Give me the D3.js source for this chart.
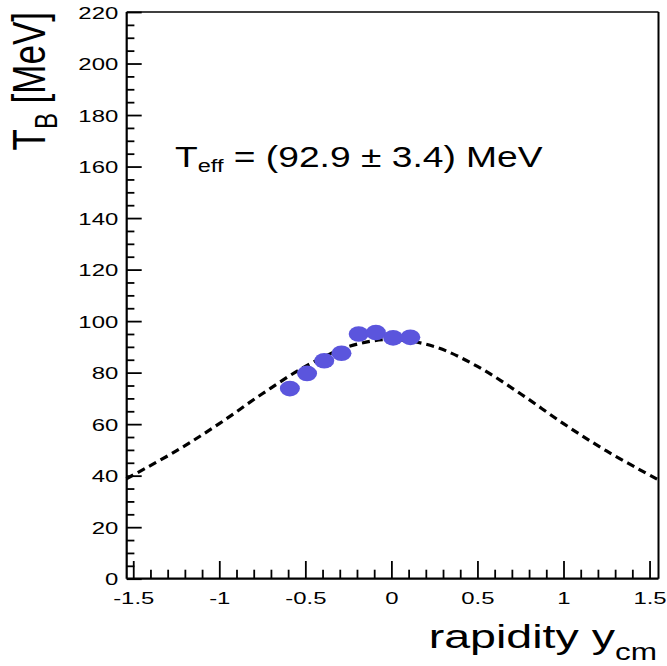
<!DOCTYPE html>
<html>
<head>
<meta charset="utf-8">
<script src="https://cdn.jsdelivr.net/npm/d3@7"></script>
<style>
  html, body { margin: 0; padding: 0; background: #fff; }
  svg { display: block; font-family: "Liberation Sans", Arial, Helvetica, sans-serif; }
</style>
</head>
<body>
<div id="chart-container"></div>
<script>
// measured points (rapidity, inverse slope T_B)
const rapidity = [-0.59, -0.49, -0.39, -0.29, -0.19, -0.09, 0.01, 0.11];
const tempB = [73.8, 79.7, 84.6, 87.5, 95.0, 95.6, 93.5, 93.7];

// dashed fit curve
const fitRapidity = [-1.54, -1.25, -1.0, -0.75, -0.5, -0.25, 0, 0.25, 0.5, 0.75, 1.0, 1.25, 1.55];
const fitTemp = [38.8, 49.6, 60.2, 71.8, 82.4, 90.1, 92.9, 90.1, 82.4, 71.8, 60.2, 49.6, 38.4];

const xMajorTicks = [-1.5, -1, -0.5, 0, 0.5, 1, 1.5];
const xTickLabels = ['-1.5', '-1', '-0.5', '0', '0.5', '1', '1.5'];
const yMajorTicks = [0, 20, 40, 60, 80, 100, 120, 140, 160, 180, 200, 220];

const fitLabel = { main: 'T', sub: 'eff', rest: ' = (92.9 \u00b1 3.4) MeV' };

window.onload = () => {
  const width = 667;
  const height = 666;
  const frame = { left: 126.7, right: 658.5, top: 12, bottom: 578.7 };

  const svg = d3.select('div#chart-container')
    .append('svg')
    .attr('width', width)
    .attr('height', height);

  const x = d3.scaleLinear().domain([-1.538, 1.552]).range([frame.left, frame.right]);
  const y = d3.scaleLinear().domain([0, 220]).range([frame.bottom, frame.top]);

  const xMinor = d3.range(-15, 16).map(d => d / 10).filter(d => !xMajorTicks.includes(d));
  const yMinor = d3.range(0, 221, 5).filter(d => d % 20 !== 0);

  // minor ticks (pointing inward)
  const xMinorAxis = svg.append('g')
    .attr('class', 'xminor')
    .attr('transform', `translate(0,${frame.bottom})`)
    .call(d3.axisBottom(x).tickValues(xMinor).tickFormat(() => ''));
  xMinorAxis.selectAll('.tick line').attr('y1', 0).attr('y2', -9);

  const yMinorAxis = svg.append('g')
    .attr('class', 'yminor')
    .attr('transform', `translate(${frame.left},0)`)
    .call(d3.axisLeft(y).tickValues(yMinor).tickFormat(() => ''));
  yMinorAxis.selectAll('.tick line').attr('x1', 0).attr('x2', 7.7);

  // major ticks
  const xAxis = svg.append('g')
    .attr('class', 'xaxis')
    .attr('transform', `translate(0,${frame.bottom})`)
    .call(d3.axisBottom(x).tickValues(xMajorTicks)
      .tickFormat((d, i) => xTickLabels[i]));
  xAxis.selectAll('.tick line').attr('y1', 0).attr('y2', -17.7);

  const yAxis = svg.append('g')
    .attr('class', 'yaxis')
    .attr('transform', `translate(${frame.left},0)`)
    .call(d3.axisLeft(y).tickValues(yMajorTicks).tickFormat(d => d));
  yAxis.selectAll('.tick line').attr('x1', 0).attr('x2', 15);

  svg.selectAll('.domain').remove();
  svg.selectAll('.tick line').attr('stroke', '#000').attr('stroke-width', 1.8);

  const tickStretch = 1.45;
  xAxis.selectAll('text')
    .attr('y', 0)
    .attr('dy', 0)
    .attr('transform', `translate(0,24.8) scale(${tickStretch},1)`)
    .attr('fill', '#000')
    .style('font-size', '16.5px');
  yAxis.selectAll('text')
    .attr('x', 0)
    .attr('dy', 0)
    .attr('transform', `translate(-8.4,6) scale(${tickStretch},1)`)
    .attr('text-anchor', 'end')
    .attr('fill', '#000')
    .style('font-size', '16.5px');

  // frame
  svg.append('line')
    .attr('x1', frame.left).attr('x2', frame.right)
    .attr('y1', frame.top).attr('y2', frame.top)
    .attr('stroke', '#000').attr('stroke-width', 1.6);
  svg.append('line')
    .attr('x1', frame.right).attr('x2', frame.right)
    .attr('y1', frame.top).attr('y2', frame.bottom)
    .attr('stroke', '#000').attr('stroke-width', 2);
  svg.append('line')
    .attr('x1', frame.left).attr('x2', frame.right)
    .attr('y1', frame.bottom).attr('y2', frame.bottom)
    .attr('stroke', '#000').attr('stroke-width', 2.2);
  svg.append('line')
    .attr('x1', frame.left).attr('x2', frame.left)
    .attr('y1', frame.top).attr('y2', frame.bottom)
    .attr('stroke', '#000').attr('stroke-width', 2.2);

  // fit curve
  const fitData = fitRapidity.map((d, i) => [d, fitTemp[i]]);
  svg.append('path')
    .datum(fitData)
    .attr('fill', 'none')
    .attr('stroke', '#000')
    .attr('stroke-width', 3.2)
    .attr('stroke-dasharray', '8,5')
    .attr('d', d3.line().x(d => x(d[0])).y(d => y(d[1])).curve(d3.curveCatmullRom));

  // data points
  svg.append('g')
    .selectAll('ellipse')
    .data(rapidity)
    .enter()
    .append('ellipse')
    .attr('cx', d => x(d))
    .attr('cy', (d, i) => y(tempB[i]))
    .attr('rx', 10)
    .attr('ry', 7.8)
    .attr('fill', '#5b55dd');

  // fit result label
  const label = svg.append('text')
    .attr('transform', 'translate(175,166.5) scale(1.24,1)')
    .attr('fill', '#000')
    .style('font-size', '30px');
  label.append('tspan').text(fitLabel.main);
  label.append('tspan').attr('dy', 5).style('font-size', '19px').text(fitLabel.sub);
  label.append('tspan').attr('dy', -5).text(fitLabel.rest);

  // x title
  const xTitle = svg.append('text')
    .attr('transform', 'translate(657,648) scale(1.37,1)')
    .attr('text-anchor', 'end')
    .attr('fill', '#000')
    .style('font-size', '34px');
  xTitle.append('tspan').text('rapidity y');
  xTitle.append('tspan').attr('dy', 12).style('font-size', '23px').text('cm');

  // y title
  const yTitle = svg.append('text')
    .attr('transform', 'translate(45,12) scale(1.32,1) rotate(-90)')
    .attr('text-anchor', 'end')
    .attr('fill', '#000')
    .style('font-size', '35px');
  yTitle.append('tspan').text('T');
  yTitle.append('tspan').attr('dy', 9).style('font-size', '24px').text('B');
  yTitle.append('tspan').attr('dy', -9).text(' [MeV]');
};
</script>
</body>
</html>
